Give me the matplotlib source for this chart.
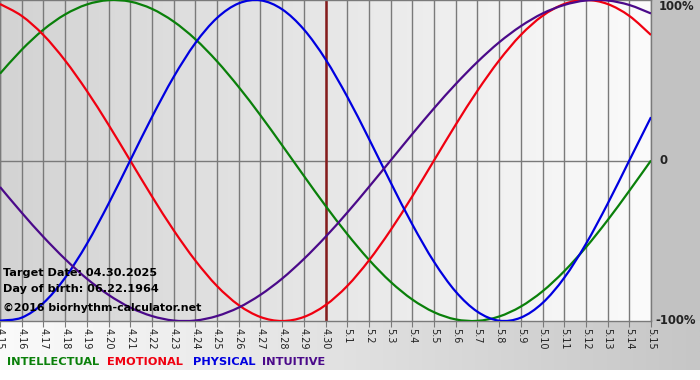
import numpy as np
import matplotlib
matplotlib.use("Agg")
import matplotlib.pyplot as plt
from matplotlib.colors import LinearSegmentedColormap
from matplotlib.patches import Rectangle, PathPatch
from matplotlib.path import Path

# Day labels along the bottom axis (month.day)
DATES = [
    "4.15", "4.16", "4.17", "4.18", "4.19", "4.20", "4.21", "4.22", "4.23",
    "4.24", "4.25", "4.26", "4.27", "4.28", "4.29", "4.30", "5.1", "5.2",
    "5.3", "5.4", "5.5", "5.6", "5.7", "5.8", "5.9", "5.10", "5.11", "5.12",
    "5.13", "5.14", "5.15",
]
TARGET = "4.30"

# Cycle values, one per day (-1 .. 1)
INTELLECTUAL = [
    0.541, 0.690, 0.815, 0.910, 0.972, 0.999, 0.990, 0.945, 0.866, 0.756,
    0.618, 0.458, 0.282, 0.095, -0.095, -0.282, -0.458, -0.618, -0.756,
    -0.866, -0.945, -0.990, -0.999, -0.972, -0.910, -0.815, -0.690, -0.541,
    -0.372, -0.189, 0.000,
]
EMOTIONAL = [
    0.975, 0.901, 0.782, 0.623, 0.434, 0.223, 0.000, -0.223, -0.434, -0.623,
    -0.782, -0.901, -0.975, -1.000, -0.975, -0.901, -0.782, -0.623, -0.434,
    -0.223, 0.000, 0.223, 0.434, 0.623, 0.782, 0.901, 0.975, 1.000, 0.975,
    0.901, 0.782,
]
PHYSICAL = [
    -0.998, -0.979, -0.888, -0.731, -0.520, -0.270, 0.000, 0.270, 0.520,
    0.731, 0.888, 0.979, 0.998, 0.942, 0.817, 0.631, 0.398, 0.136, -0.136,
    -0.398, -0.631, -0.817, -0.942, -0.998, -0.979, -0.888, -0.731, -0.520,
    -0.270, 0.000, 0.270,
]
INTUITIVE = [
    -0.165, -0.325, -0.476, -0.614, -0.736, -0.837, -0.916, -0.969, -0.997,
    -0.997, -0.969, -0.916, -0.837, -0.736, -0.614, -0.476, -0.325, -0.165,
    0.000, 0.165, 0.325, 0.476, 0.614, 0.736, 0.837, 0.916, 0.969, 0.997,
    0.997, 0.969, 0.916,
]

SERIES = [
    ("INTELLECTUAL", INTELLECTUAL, "#0a800a"),
    ("EMOTIONAL", EMOTIONAL, "#f00010"),
    ("PHYSICAL", PHYSICAL, "#0000e0"),
    ("INTUITIVE", INTUITIVE, "#4b0a8a"),
]

W, H = 700, 380
PLOT_R, PLOT_B = 651, 321
FONT = "DejaVu Sans"


def smooth_path(xs, ys):
    """Catmull-Rom style bezier path through the given points (line smoothing only)."""
    pts = np.column_stack([xs, ys]).astype(float)
    padded = np.vstack([pts[0], pts, pts[-1]])
    verts = [pts[0]]
    codes = [Path.MOVETO]
    for i in range(len(pts) - 1):
        p0, p1, p2, p3 = padded[i], padded[i + 1], padded[i + 2], padded[i + 3]
        verts += [p1 + (p2 - p0) / 6, p2 - (p3 - p1) / 6, p2]
        codes += [Path.CURVE4] * 3
    return Path(verts, codes)


fig = plt.figure(figsize=(W / 100, H / 100), dpi=100)
fig.patch.set_facecolor("white")

# background: grey right margin + grey gradient band under the plot
bg = fig.add_axes([0, 0, 1, 1], zorder=0)
bg.set_axis_off()
grad = np.linspace(0, 1, 256).reshape(1, -1)
band_cmap = LinearSegmentedColormap.from_list("band", ["#fbfbfb", "#c6c6c6"])
bg.imshow(grad, extent=(0, W, 370, PLOT_B), cmap=band_cmap, aspect="auto")
bg.add_patch(Rectangle((PLOT_R, 0), W - PLOT_R, PLOT_B, color="#c2c2c2", lw=0))
bg.set_xlim(0, W)
bg.set_ylim(H, 0)

# main plot area
ax = fig.add_axes([0, 1 - PLOT_B / H, PLOT_R / W, PLOT_B / H], zorder=1)
x = np.arange(len(DATES))
area_cmap = LinearSegmentedColormap.from_list("area", ["#d3d3d3", "#fbfbfb"])
ax.imshow(grad, extent=(0, len(DATES) - 1, -1, 1), cmap=area_cmap,
          aspect="auto", zorder=0)

ax.set_xticks(x)
ax.set_xticklabels(DATES)
ax.grid(axis="x", color="#7a7a7a", lw=1, zorder=1)
ax.axhline(0, color="#7a7a7a", lw=1, zorder=1)
ax.axvline(DATES.index(TARGET), color="#861c1c", lw=1.8, zorder=2)

for name, vals, color in SERIES:
    ax.add_patch(PathPatch(smooth_path(x, vals), facecolor="none",
                           edgecolor=color, lw=1.6, zorder=3))

ax.set_xlim(0, len(DATES) - 1)
ax.set_ylim(-1, 1)
ax.set_yticks([])
for side in ax.spines:
    ax.spines[side].set_color("#7a7a7a")
    ax.spines[side].set_linewidth(1)
ax.tick_params(axis="x", direction="out", length=4, color="#7a7a7a",
               labelsize=7, labelrotation=-90, pad=1, labelcolor="#222222")
for lbl in ax.get_xticklabels():
    lbl.set_fontfamily(FONT)

# right-hand percentage labels
for val, txt, dx in [(1, "100%", 8), (0, "0", 8), (-1, "-100%", 4)]:
    ax.annotate(txt, xy=(1, val), xycoords=("axes fraction", "data"),
                xytext=(dx, 0), textcoords="offset pixels",
                va="top" if val == 1 else "center", ha="left",
                fontsize=8.4, fontweight="bold", color="#222222", family=FONT,
                annotation_clip=False)


def px_text(px, py, s, **kw):
    fig.text(px / W, 1 - py / H, s, family=FONT, fontweight="bold", **kw)


px_text(3, 276, "Target Date: 04.30.2025", fontsize=8.1, color="black",
        va="baseline", zorder=5)
px_text(3, 292, "Day of birth: 06.22.1964", fontsize=8.1, color="black",
        va="baseline", zorder=5)
px_text(3, 311, "\u00a92016 biorhythm-calculator.net", fontsize=7.9,
        color="black", va="baseline", zorder=5)

# colored legend words under the axis
for (name, vals, color), lx in zip(SERIES, [7, 107, 193, 262]):
    px_text(lx, 362, name, fontsize=8.2, color=color, va="center")

fig.savefig("out.png", dpi=100)
